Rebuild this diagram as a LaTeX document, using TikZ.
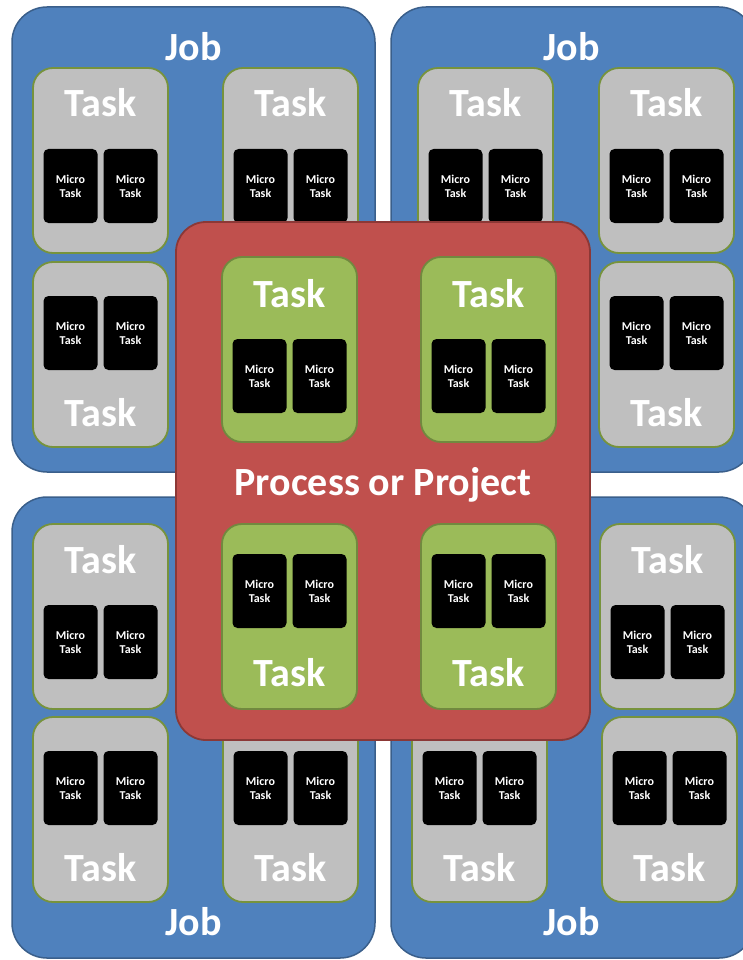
\documentclass[tikz,border=0pt]{standalone}
\usepackage{fontspec}
\setmainfont{Carlito}

\definecolor{jobblue}{HTML}{4F81BD}
\definecolor{jobedge}{HTML}{3A5F8B}
\definecolor{taskgray}{HTML}{BFBFBF}
\definecolor{taskedge}{HTML}{77933C}
\definecolor{procred}{HTML}{C0504D}
\definecolor{procedge}{HTML}{8C3836}
\definecolor{taskgreen}{HTML}{9BBB59}
\definecolor{greenedge}{HTML}{71893F}

\begin{document}
\begin{tikzpicture}[x=1pt,y=-1pt,every node/.style={inner sep=0pt,outer sep=0pt},
                    semithick]

  \tikzstyle{job}=[rectangle,rounded corners=35pt,draw=jobedge,fill=jobblue,line width=1.5pt,
                   minimum width=363pt,minimum height=465pt]
  \tikzstyle{graytask}=[rectangle,rounded corners=20pt,draw=taskedge,fill=taskgray,line width=1.8pt,
                        minimum width=135pt,minimum height=185pt]
  \tikzstyle{greentask}=[graytask,draw=greenedge,fill=taskgreen]
  \tikzstyle{process}=[rectangle,rounded corners=30pt,draw=procedge,fill=procred,line width=1.8pt,
                       minimum width=414pt,minimum height=518pt]
  \tikzstyle{micro}=[rectangle,rounded corners=5pt,fill=black,text=white,align=center,
                     minimum width=54pt,minimum height=74pt,
                     font=\bfseries\fontsize{12}{13.8}\selectfont]
  \tikzstyle{biglabel}=[text=white,anchor=base,font=\bfseries\fontsize{40}{44}\selectfont]

  \useasboundingbox (0,0) rectangle (743,960);
  \clip (0,0) rectangle (743,960);

  % the four jobs
  \node[job,anchor=north west] (jobtl) at (12,7)   {};
  \node[job,anchor=north west] (jobtr) at (391,7)  {};
  \node[job,anchor=north west,minimum height=461pt] (jobbl) at (12,497)  {};
  \node[job,anchor=north west,minimum height=461pt] (jobbr) at (391,497) {};

  \node[biglabel] (jobtl-t) at ([yshift=-54pt]jobtl.north) {Job};
  \node[biglabel] (jobtr-t) at ([xshift=-1pt,yshift=-54pt]jobtr.north) {Job};
  \node[biglabel] (jobbl-t) at ([yshift=23pt]jobbl.south) {Job};
  \node[biglabel] (jobbr-t) at ([xshift=-1pt,yshift=23pt]jobbr.south) {Job};

  % tasks of the jobs: name / x / y / label offset / micro offset
  \foreach \nm/\px/\py/\ly/\my in {tla/33/68/49/118,  tlb/223/68/49/118,  tlc/33/262/164/71,
                                   tra/418/68/49/118, trb/599/68/49/118,  trc/599/262/164/71,
                                   bla/33/524/49/118, blb/33/717/164/71,  blc/223/717/164/71,
                                   bra/600/524/49/118,brb/412/717/164/71, brc/602/717/164/71}{
    \node[graytask,anchor=north west] (\nm) at (\px,\py) {};
    \node[biglabel] (\nm-t) at ([yshift=-\ly pt]\nm.north) {Task};
    \node[micro] (\nm-m1) at ([xshift=-30pt,yshift=-\my pt]\nm.north) {Micro\\Task};
    \node[micro] (\nm-m2) at ([xshift=30pt,yshift=-\my pt]\nm.north)  {Micro\\Task};
  }

  % the process on top
  \node[process,anchor=north west] (proc) at (176,222) {};
  \node[biglabel] (proc-t) at (383,495) {Process or Project};

  \foreach \nm/\px/\py/\ly/\my in {pa/222/257/50/119, pb/421/257/50/119,
                                   pc/222/524/162/67, pd/421/524/162/67}{
    \node[greentask,anchor=north west] (\nm) at (\px,\py) {};
    \node[biglabel] (\nm-t) at ([yshift=-\ly pt]\nm.north) {Task};
    \node[micro] (\nm-m1) at ([xshift=-30pt,yshift=-\my pt]\nm.north) {Micro\\Task};
    \node[micro] (\nm-m2) at ([xshift=30pt,yshift=-\my pt]\nm.north)  {Micro\\Task};
  }
\end{tikzpicture}
\end{document}
